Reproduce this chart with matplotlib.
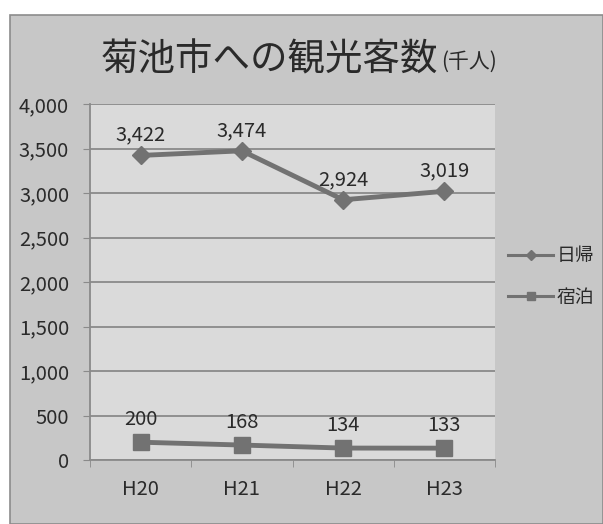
import matplotlib
matplotlib.use("Agg")
import matplotlib.pyplot as plt
from matplotlib.patches import Rectangle

plt.rcParams['font.family'] = ['Noto Sans CJK JP', 'DejaVu Sans']

categories = ["H20", "H21", "H22", "H23"]
day_trip = [3422, 3474, 2924, 3019]
overnight = [200, 168, 134, 133]
series_names = ["日帰", "宿泊"]
yticks = [0, 500, 1000, 1500, 2000, 2500, 3000, 3500, 4000]

W, H = 603, 524
fig = plt.figure(figsize=(W / 100, H / 100), dpi=100)
fig.patch.set_facecolor("white")

# chart panel background with border, kept behind the axes
panel = Rectangle((10 / W, 0), 1 - 10 / W, 1 - 15 / H,
                  transform=fig.transFigure, facecolor="#c7c7c7",
                  edgecolor="#8c8c8c", linewidth=1.2, zorder=-10)
fig.add_artist(panel)

ax = fig.add_axes([90 / W, (H - 460) / H, (495 - 90) / W, (460 - 104) / H])
ax.set_zorder(1)
ax.set_facecolor("#dadada")

x = list(range(len(categories)))
line_color = "#727272"
ax.plot(x, day_trip, color=line_color, lw=3.5, marker="D", ms=9,
        label=series_names[0], zorder=3)
ax.plot(x, overnight, color=line_color, lw=3.5, marker="s", ms=11,
        label=series_names[1], zorder=3)

fs = 14.5
for xi, v in zip(x, day_trip):
    ax.annotate(f"{v:,}", (xi, v), xytext=(0, 7), textcoords="offset points",
                ha="center", va="bottom", fontsize=fs, color="#2a2a2a")
for xi, v in zip(x, overnight):
    ax.annotate(f"{v:,}", (xi, v), xytext=(0, 9), textcoords="offset points",
                ha="center", va="bottom", fontsize=fs, color="#2a2a2a")

ax.set_xlim(-0.5, len(categories) - 0.5)
ax.set_ylim(0, 4000)
ax.set_yticks(yticks)
ax.set_yticklabels([f"{t:,}" for t in yticks], fontsize=fs, color="#2a2a2a")
ax.yaxis.grid(True, color="#8a8a8a", lw=1.3)
ax.set_axisbelow(True)
ax.tick_params(axis="y", length=5, color="#8a8a8a", pad=10)

ax.set_xticks(x)
ax.set_xticklabels(categories, fontsize=fs, color="#2a2a2a")
ax.tick_params(axis="x", length=0, pad=14)
ax.set_xticks([i - 0.5 for i in range(len(categories) + 1)], minor=True)
ax.tick_params(axis="x", which="minor", length=5, color="#8a8a8a", direction="out")

for s in ["top", "right"]:
    ax.spines[s].set_visible(False)
for s in ["left", "bottom"]:
    ax.spines[s].set_color("#8a8a8a")
    ax.spines[s].set_linewidth(1.3)

leg = ax.legend(loc="center left", bbox_to_anchor=(1.0, 0.515), frameon=False,
                fontsize=13.5, handlelength=2.4, labelspacing=1.1,
                handletextpad=0.2, markerscale=0.55, borderaxespad=0.3)
for t in leg.get_texts():
    t.set_color("#2a2a2a")
for ln in leg.get_lines():
    ln.set_linewidth(2.2)

fig.text(438 / W, 1 - 60 / H, "菊池市への観光客数", fontsize=27, color="#2a2a2a",
         ha="right", va="center")
fig.text(441 / W, 1 - 62 / H, "(千人)", fontsize=15, color="#2a2a2a",
         ha="left", va="center")

fig.savefig("out.png", dpi=100, facecolor=fig.get_facecolor())
